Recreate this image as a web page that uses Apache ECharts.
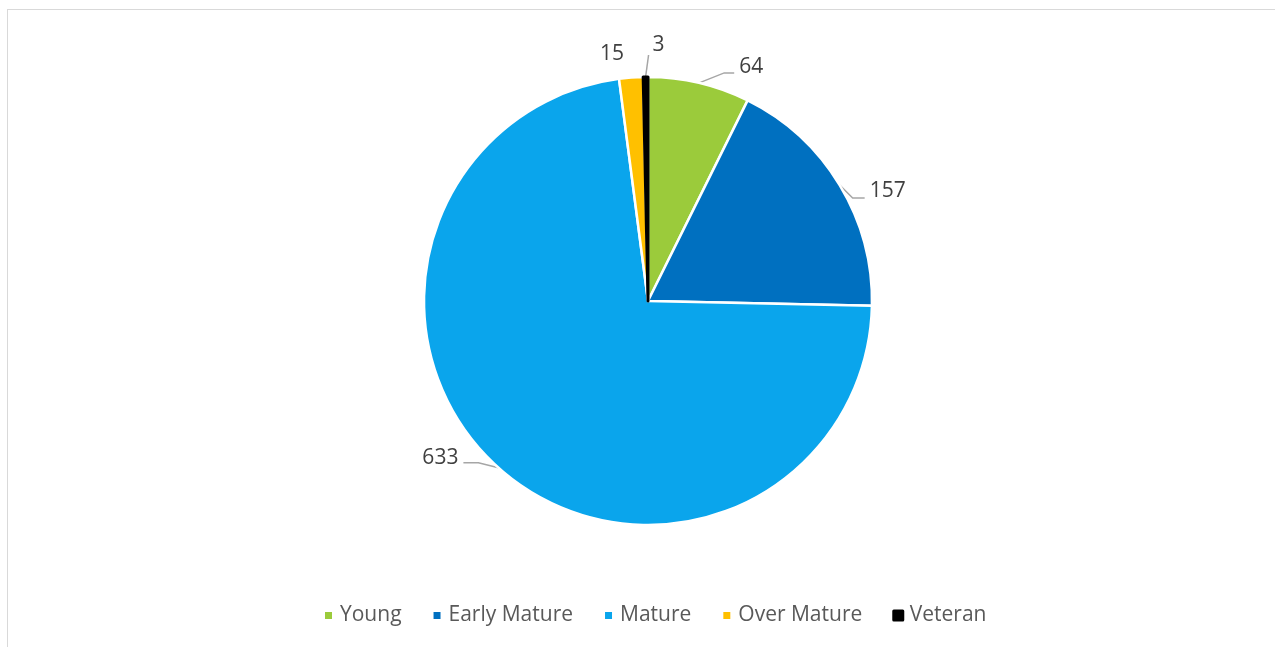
<!DOCTYPE html>
<html>
<head>
<meta charset="utf-8">
<script src="https://cdn.jsdelivr.net/npm/echarts@6/dist/echarts.min.js"></script>
<style>
  html, body { margin: 0; padding: 0; background: #fff; }
  #frame {
    position: absolute; left: 7px; top: 9px; width: 1300px; height: 700px;
    border-top: 1px solid #d9d9d9; border-left: 1px solid #d9d9d9;
  }
  #chart { position: absolute; left: 0; top: 0; width: 1275px; height: 647px; }
</style>
</head>
<body>
<div id="frame"></div>
<div id="chart"></div>
<script>
var categories = ['Young', 'Early Mature', 'Mature', 'Over Mature', 'Veteran'];
var counts = [64, 157, 633, 15, 3];
var colors = ['#9BCB3B', '#0070C0', '#0AA5EC', '#FFC000', '#000000'];

// leader line bends, relative to where the line leaves the slice
var labelBends = {
  'Young':        { mid: [25, -10], end: [35, -10], text: [40, -16], align: 'left' },
  'Early Mature': { mid: [13, 13],  end: [25, 13],  text: [30, 6],   align: 'left' },
  'Mature':       { mid: [-20, -5], end: [-35, -5], text: [-40, -10], align: 'right' },
  'Over Mature':  { mid: [0, 0],    end: [0, 0],    text: [-7, -24], align: 'right' },
  'Veteran':      { mid: [3, -22],  end: [3, -22],  text: [7, -32],  align: 'left' }
};

var chart = echarts.init(document.getElementById('chart'));

var pieData = [];
for (var i = 0; i < categories.length; i++) {
  var item = {
    name: categories[i],
    value: counts[i],
    itemStyle: { color: colors[i] }
  };
  if (categories[i] == 'Veteran') {
    item.itemStyle.borderColor = '#000';
    item.itemStyle.borderWidth = 3;
  }
  if (categories[i] == 'Over Mature') {
    item.labelLine = { lineStyle: { opacity: 0 } };
  }
  pieData.push(item);
}

var legendData = categories.map(function(name) {
  if (name == 'Veteran') {
    return { name: name, itemStyle: { borderColor: '#000', borderWidth: 3 } };
  }
  return { name: name };
});

var option = {
  animation: false,
  textStyle: { fontFamily: 'Open Sans' },
  legend: {
    bottom: 16,
    left: 318,
    icon: 'rect',
    itemWidth: 9,
    itemHeight: 9,
    itemGap: 30,
    data: legendData,
    textStyle: { color: '#595959', fontSize: 21, fontFamily: 'Open Sans', padding: [0, 0, 0, 2] }
  },
  series: [{
    type: 'pie',
    center: [648, 301],
    radius: 224,
    startAngle: 90,
    clockwise: true,
    data: pieData,
    itemStyle: { borderColor: '#fff', borderWidth: 2.5 },
    label: {
      show: true,
      formatter: '{c}',
      color: '#404040',
      fontSize: 21,
      fontFamily: 'Open Sans'
    },
    labelLine: {
      show: true,
      length: 14,
      length2: 12,
      lineStyle: { color: '#a6a6a6', width: 1.5 }
    },
    labelLayout: function(params) {
      var bend = labelBends[categories[params.dataIndex]];
      var pts = params.labelLinePoints;
      if (!bend || !pts) return {};
      var p0 = pts[0];
      return {
        x: p0[0] + bend.text[0],
        y: p0[1] + bend.text[1],
        align: bend.align,
        verticalAlign: 'middle',
        labelLinePoints: [
          [p0[0], p0[1]],
          [p0[0] + bend.mid[0], p0[1] + bend.mid[1]],
          [p0[0] + bend.end[0], p0[1] + bend.end[1]]
        ]
      };
    }
  }]
};

chart.setOption(option);
</script>
</body>
</html>
